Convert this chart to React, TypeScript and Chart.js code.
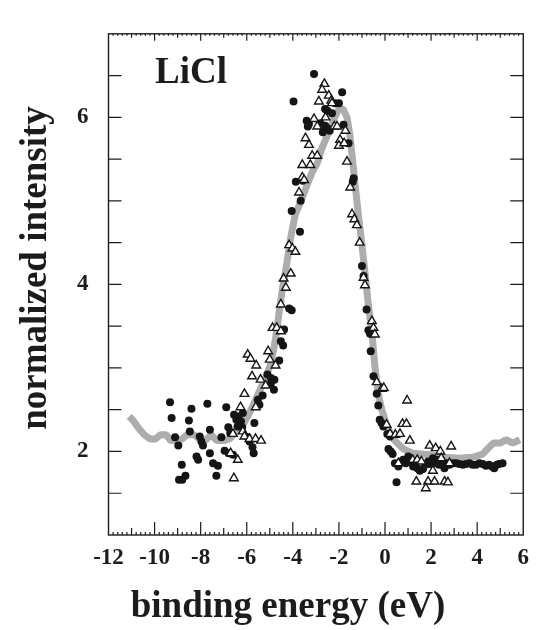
import React, { useEffect, useRef } from "react";
import { Chart, registerables } from "chart.js";

Chart.register(...registerables);

// ---- data ----
const filledX = [
  -9.33, -9.26, -8.4, -7.71, -8.51, -8.47, -7.6, -9.11, -8.97, -8.04, -7.97, -7.9, -7.1, -8.18, -7.6, -8.11,
  -7.46, -7.25, -8.82, -7.32, -8.94, -8.8, -8.66, -6.89, -6.96, -6.78, -6.6,
  -6.8, -6.72, -6.55, -6.45, -6.35, -6.25, -6.4, -6.2, -6.17, -5.67, -5.96, -5.88, -5.75, -5.7, -5.52, -5.45,
  -5.31, -5.1, -4.95, -4.8, -4.96, -4.82, -4.59, -4.52, -4.42, -4.38, -4.16, -4.05, -4.05, -3.69, -3.87, -3.57, -3.66,
  -3.08, -3.97, -1.86, -2.17, -2.0, -2.6, -2.5, -2.3, -3.4, -3.3, -3.35, -2.8, -2.6, -2.5, -2.4, -2.7, -1.8, -1.58,
  -1.36, -1.4,
  -1.0, -0.93, -0.8, -0.72, -0.65, -0.62, -0.5, -0.36, -0.29, -0.23, -0.15, -0.07, 0.1, 0.22, 0.15, 0.25, 0.33, 0.5,
  0.43, 0.58, 0.7, 0.79, 0.9, 1.01, 1.1, 1.22, 1.3, 1.4, 1.51, 1.65, 1.75, 1.87, 1.95, 2.08, 2.15, 2.23, 2.35, 2.44,
  2.58, 2.7, 2.8, 2.95, 3.09, 3.23, 3.38, 3.52, 3.66, 3.8, 3.95, 4.1, 4.24, 4.38, 4.52, 4.64, 4.74, 4.85, 4.95, 5.1,
];
const filledY = [
  2.59, 2.4, 2.51, 2.57, 2.37, 2.24, 2.26, 2.17, 2.07, 2.18, 2.12, 2.07, 2.17, 1.94, 1.98, 1.9,
  1.86, 1.83, 1.84, 1.71, 1.66, 1.66, 1.71, 2.53, 2.01, 1.98, 1.96,
  2.29, 2.22, 2.44, 2.38, 2.42, 2.36, 2.3, 2.29, 2.46, 2.34, 2.17, 2.12, 2.05, 1.98, 2.62, 2.56,
  2.67, 2.92, 2.88, 2.86, 2.81, 2.74, 3.09, 3.32, 3.27, 3.46, 3.71, 3.69, 4.88, 4.63, 5.23, 5.24, 5.0,
  6.52, 6.19, 6.3, 6.17, 6.17, 6.1, 6.08, 6.05, 5.96, 5.92, 5.89, 5.93, 5.9, 5.87, 5.84, 5.82, 5.91, 5.69,
  5.27, 5.23,
  4.22, 4.1, 3.7, 3.45, 3.41, 3.2, 2.9, 2.69, 2.55, 2.38, 2.34, 2.3, 2.21, 2.18, 2.03, 2.0, 1.97, 1.63,
  1.86, 1.82, 1.88, 1.9, 1.86, 1.94, 1.88, 1.82, 1.86, 1.8, 1.77, 1.79, 1.84, 1.88, 1.85, 1.92, 1.86, 1.9, 1.84, 1.86,
  1.8, 1.86, 1.84, 1.86, 1.86, 1.85, 1.84, 1.85, 1.86, 1.84, 1.84, 1.86, 1.85, 1.83, 1.84, 1.82, 1.8, 1.84, 1.85, 1.86,
];

const openX = [
  -2.63, -2.73, -2.44, -2.87, -2.33, -2.3, -2.58, -3.08, -2.94, -2.2, -2.08, -1.72, -3.45, -3.3, -1.95, -2.0, -1.77,
  -3.16, -2.94, -1.65, -3.59, -3.24, -3.59, -3.51, -3.73, -4.16, -4.02, -3.89, -4.09, -4.4, -4.3, -4.52,
  -1.51, -1.43, -1.33, -1.22, -1.1, -0.93, -0.87,
  -4.88, -4.7, -4.52, -5.96, -5.84, -5.07, -5.0, -5.59, -4.75, -5.77, -5.4, -5.18, -6.1, -6.27, -5.61,
  -6.6, -6.17, -6.1, -5.88, -5.62, -5.38, -6.39, -6.56, -6.7,
  -0.57, -0.5, -0.44, -0.36, -0.14, -0.05, 0.96, 0.07, 0.76, 0.93, 0.22, 0.45, 0.65, 1.08, 1.94, 2.2, 2.4, 2.87,
  0.58, 1.2, 1.4, 1.58, 2.08, 2.44, 2.8, 1.36, 1.87, 2.15, 2.59, 2.73, 1.77,
];
const openY = [
  6.4, 6.33, 6.26, 6.19, 6.2, 6.17, 6.0, 5.98, 5.89, 5.89, 5.89, 5.84, 5.75, 5.67, 5.73, 5.66, 5.69,
  5.54, 5.54, 5.47, 5.43, 5.43, 5.28, 5.25, 5.1, 4.47, 4.43, 4.39, 4.13, 4.07, 3.96, 3.76,
  5.16, 4.84, 4.78, 4.71, 4.5, 4.08, 3.99,
  3.48, 3.48, 3.44, 3.16, 3.11, 3.2, 3.1, 3.03, 3.03, 2.9, 2.86, 2.79, 2.69, 2.53, 2.53,
  2.21, 2.24, 2.18, 2.15, 2.15, 2.13, 1.9, 1.68, 1.98,
  3.56, 3.48, 3.4, 2.83, 2.75, 2.76, 2.61, 2.32, 2.33, 2.33, 2.21, 2.2, 2.21, 2.13, 2.07, 2.04, 2.0, 2.06,
  1.86, 1.9, 1.9, 1.88, 1.77, 1.92, 1.86, 1.64, 1.64, 1.64, 1.64, 1.63, 1.56,
];

const curveX = [
  -11.1, -10.9, -10.7, -10.45, -10.2, -9.95, -9.75, -9.5, -9.3, -9.05, -8.8, -8.6, -8.3, -8.05, -7.8, -7.55, -7.3,
  -7.0, -6.75, -6.5, -6.2, -5.9, -5.65, -5.4, -5.2, -4.95, -4.75, -4.6, -4.45, -4.25, -4.1, -3.9, -3.6, -3.37,
  -3.15, -2.94, -2.75, -2.45, -2.22, -2.0, -1.82, -1.65, -1.53, -1.43, -1.3, -1.15, -1.0, -0.86, -0.72, -0.57,
  -0.45, -0.3, -0.14, 0.07, 0.35, 0.8, 1.2, 1.9, 2.6, 3.2, 3.8, 4.25, 4.45, 4.7, 5.0, 5.25, 5.55, 5.85,
];
const curveY = [
  2.42, 2.36, 2.28, 2.2, 2.15, 2.15, 2.2, 2.2, 2.13, 2.13, 2.15, 2.2, 2.2, 2.15, 2.13, 2.2, 2.13,
  2.13, 2.15, 2.22, 2.3, 2.45, 2.6, 2.75, 2.88, 3.05, 3.35, 3.65, 3.95, 4.27, 4.55, 4.83, 5.03, 5.2,
  5.35, 5.45, 5.62, 5.82, 5.98, 6.1, 6.1, 6.0, 5.8, 5.55, 5.2, 4.82, 4.47, 4.12, 3.75, 3.43,
  3.05, 2.7, 2.5, 2.32, 2.15, 2.03, 1.98, 1.96, 1.93, 1.92, 1.93, 1.97, 2.03, 2.1, 2.1, 2.14, 2.1, 2.14,
];

const xTickValues = [-12, -10, -8, -6, -4, -2, 0, 2, 4, 6];
const yTickLabels = [2, 4, 6];
const panelLabel = "LiCl";
const xTitle = "binding energy (eV)";
const yTitle = "normalized intensity";

const SERIF = "'Liberation Serif', 'DejaVu Serif', serif";
const INK = "#1c1c1c";

const pairs = (xs: number[], ys: number[]) => xs.map((x, i) => ({ x, y: ys[i] }));

const framePlugin = {
  id: "frameTicks",
  afterDatasetsDraw(chart: any) {
    const { ctx, chartArea: a, scales } = chart;
    const xs = scales.x;
    const ys = scales.y;
    ctx.save();
    ctx.strokeStyle = INK;
    ctx.lineWidth = 1.4;
    ctx.strokeRect(a.left, a.top, a.right - a.left, a.bottom - a.top);
    ctx.lineWidth = 1.2;
    ctx.beginPath();
    for (let i = -59; i <= 29; i++) {
      const px = xs.getPixelForValue(i / 5);
      let lb: number, lt: number;
      if (i % 10 === 0) {
        lb = 13; lt = 7;
      } else if (i % 5 === 0) {
        lb = 7; lt = 4;
      } else {
        lb = 3; lt = 2;
      }
      ctx.moveTo(px, a.bottom);
      ctx.lineTo(px, a.bottom - lb);
      ctx.moveTo(px, a.top);
      ctx.lineTo(px, a.top + lt);
    }
    for (let j = 3; j <= 13; j++) {
      const py = ys.getPixelForValue(j / 2);
      ctx.moveTo(a.left, py);
      ctx.lineTo(a.left + 13, py);
      ctx.moveTo(a.right, py);
      ctx.lineTo(a.right - 13, py);
    }
    ctx.stroke();

    ctx.fillStyle = INK;
    ctx.font = `bold 37px ${SERIF}`;
    ctx.textBaseline = "alphabetic";
    ctx.textAlign = "left";
    ctx.fillText(panelLabel, 155, 83);

    ctx.textAlign = "center";
    ctx.fillText(xTitle, 288, 617);

    ctx.translate(46, 268);
    ctx.rotate(-Math.PI / 2);
    ctx.fillText(yTitle, 0, 0);
    ctx.restore();
  },
};

export default function App() {
  const canvasRef = useRef<HTMLCanvasElement | null>(null);

  useEffect(() => {
    if (!canvasRef.current) return;
    const tickFont = { family: SERIF, size: 23, weight: "bold" as const };
    const chart = new Chart(canvasRef.current, {
      type: "scatter",
      data: {
        datasets: [
          {
            type: "line",
            label: "model",
            data: pairs(curveX, curveY),
            borderColor: "#adadad",
            borderWidth: 7,
            pointRadius: 0,
            tension: 0,
            borderJoinStyle: "bevel",
            fill: false,
            order: 3,
          },
          {
            label: "filled",
            data: pairs(filledX, filledY),
            pointStyle: "circle",
            pointRadius: 4,
            backgroundColor: "#151515",
            borderColor: "#151515",
            borderWidth: 0,
            order: 2,
          },
          {
            label: "open",
            data: pairs(openX, openY),
            pointStyle: "triangle",
            pointRadius: 5,
            backgroundColor: "#ffffff",
            borderColor: "#151515",
            borderWidth: 1.4,
            order: 1,
          },
        ],
      } as any,
      options: {
        animation: false,
        responsive: true,
        maintainAspectRatio: false,
        layout: { padding: { top: 13, right: 11.5, left: 0, bottom: 0 } },
        plugins: { legend: { display: false }, tooltip: { enabled: false } },
        scales: {
          x: {
            type: "linear",
            min: -12,
            max: 6,
            grid: { display: false, drawTicks: false },
            border: { display: false },
            afterBuildTicks: (s: any) => {
              s.ticks = xTickValues.map((v) => ({ value: v }));
            },
            afterFit: (s: any) => {
              s.height = 95;
            },
            ticks: {
              autoSkip: false,
              maxRotation: 0,
              padding: 9,
              color: INK,
              font: tickFont,
              callback: (v: any) => String(v),
            },
          },
          y: {
            type: "linear",
            min: 1,
            max: 7,
            grid: { display: false, drawTicks: false },
            border: { display: false },
            afterFit: (s: any) => {
              s.width = 108.5;
            },
            ticks: {
              stepSize: 1,
              padding: 20,
              color: INK,
              font: tickFont,
              callback: (v: any) => (yTickLabels.includes(Number(v)) ? String(v) : ""),
            },
          },
        },
      } as any,
      plugins: [framePlugin],
    });
    return () => chart.destroy();
  }, []);

  return (
    <div style={{ position: "absolute", left: 0, top: 0, width: 538, height: 630, background: "#fff" }}>
      <canvas ref={canvasRef} />
    </div>
  );
}
